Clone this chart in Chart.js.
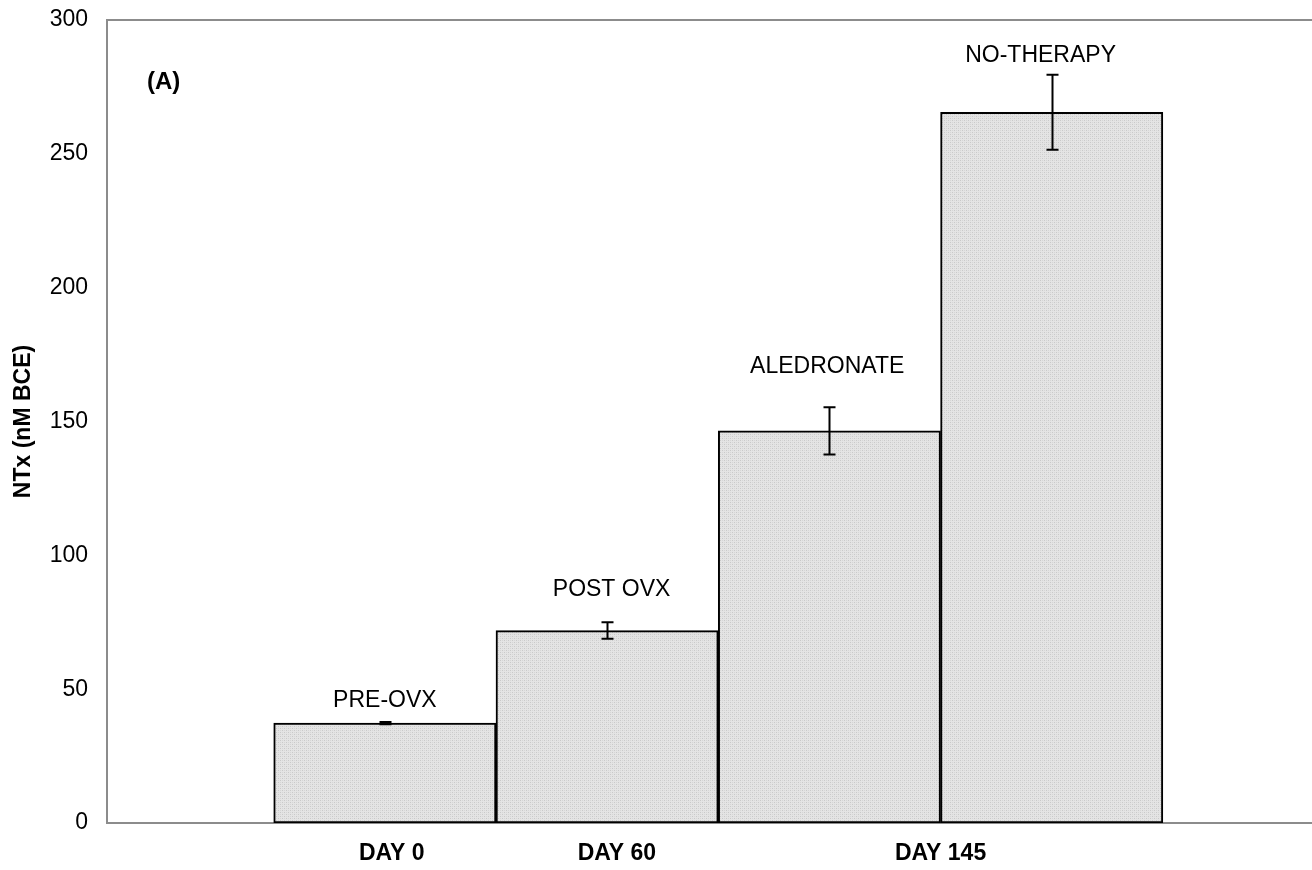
<!DOCTYPE html>
<html>
<head>
<meta charset="utf-8">
<script src="https://cdn.jsdelivr.net/npm/chart.js@4.4.1/dist/chart.umd.min.js"></script>
<style>
  html, body { margin: 0; padding: 0; background: #ffffff; }
  #wrap { width: 1312px; height: 870px; position: relative; }
</style>
</head>
<body>
<div id="wrap"><canvas id="c" width="1312" height="870"></canvas></div>
<script>
// ---- data ----
const groups = ['PRE-OVX', 'POST OVX', 'ALEDRONATE', 'NO-THERAPY'];
const barPositions = [1, 2, 3, 4];
const ntxValues = [37.3, 71.9, 146.5, 265.5];
const ntxErrors = [0.4, 3.1, 8.8, 14.0];
const dayLabels = ['DAY 0', 'DAY 60', 'DAY 145'];
const dayTickPositions = [1.031, 2.044, 3.5];
const yTickValues = [0, 50, 100, 150, 200, 250, 300];
// label anchor heights (in axis units) for the text above each bar
const groupLabelY = [43.4, 84.9, 168.2, 284.4];
const groupLabelX = [1.0, 2.02, 2.99, 3.95];

const FONT = '"Liberation Sans", Arial, sans-serif';

// dotted light-gray fill like the original
function makePattern() {
  const p = document.createElement('canvas');
  p.width = 4; p.height = 4;
  const g = p.getContext('2d');
  g.fillStyle = '#e4e4e4';
  g.fillRect(0, 0, 4, 4);
  g.fillStyle = '#c9c9c9';
  g.fillRect(0, 0, 1, 1);
  g.fillRect(2, 2, 1, 1);
  g.fillStyle = '#d6d6d6';
  g.fillRect(2, 0, 1, 1);
  g.fillRect(0, 2, 1, 1);
  return g.createPattern(p, 'repeat');
}

const errorBars = {
  id: 'errorBars',
  afterDatasetsDraw(chart) {
    const ctx = chart.ctx;
    const meta = chart.getDatasetMeta(0);
    const ys = chart.scales.y;
    ctx.save();
    ctx.strokeStyle = '#000000';
    ctx.lineWidth = 2;
    meta.data.forEach((bar, i) => {
      const hi = ys.getPixelForValue(ntxValues[i] + ntxErrors[i]);
      const lo = ys.getPixelForValue(ntxValues[i] - ntxErrors[i]);
      const x = Math.round(bar.x) + 0.5;
      const cap = 6;
      ctx.beginPath();
      ctx.moveTo(x, hi); ctx.lineTo(x, lo);
      ctx.moveTo(x - cap, hi); ctx.lineTo(x + cap, hi);
      ctx.moveTo(x - cap, lo); ctx.lineTo(x + cap, lo);
      ctx.stroke();
    });
    ctx.restore();
  }
};

const textLabels = {
  id: 'textLabels',
  afterDatasetsDraw(chart) {
    const ctx = chart.ctx;
    const xs = chart.scales.x, ys = chart.scales.y;
    const area = chart.chartArea;
    ctx.save();
    ctx.fillStyle = '#000000';
    ctx.font = '23px ' + FONT;
    ctx.textAlign = 'center';
    ctx.textBaseline = 'alphabetic';
    groups.forEach((g, i) => {
      ctx.fillText(g, xs.getPixelForValue(groupLabelX[i]), ys.getPixelForValue(groupLabelY[i]));
    });
    ctx.font = 'bold 24px ' + FONT;
    ctx.textAlign = 'left';
    ctx.fillText('(A)', 147, 89);
    // top frame line
    ctx.strokeStyle = '#8c8c8c';
    ctx.lineWidth = 2;
    ctx.beginPath();
    ctx.moveTo(area.left - 1, area.top);
    ctx.lineTo(area.right, area.top);
    ctx.stroke();
    ctx.restore();
  }
};

const pattern = makePattern();

new Chart(document.getElementById('c'), {
  type: 'bar',
  data: {
    datasets: [{
      data: barPositions.map((x, i) => ({ x: x, y: ntxValues[i] })),
      backgroundColor: pattern,
      borderColor: '#000000',
      borderWidth: 2,
      borderSkipped: false,
      barPercentage: 1.0,
      categoryPercentage: 1.0
    }]
  },
  options: {
    responsive: false,
    animation: false,
    events: [],
    layout: { padding: { left: 10, top: 20, right: 0, bottom: 0 } },
    plugins: {
      legend: { display: false },
      tooltip: { enabled: false },
      title: { display: false }
    },
    scales: {
      x: {
        type: 'linear',
        min: -0.25,
        max: 5.171,
        offset: false,
        bounds: 'ticks',
        grid: { display: false, drawTicks: false, tickLength: 0, offset: false },
        border: { display: true, color: '#8c8c8c', width: 2 },
        afterBuildTicks(scale) {
          scale.ticks = dayTickPositions.map(v => ({ value: v }));
        },
        afterFit(scale) {
          scale.height = 47;
          scale.paddingLeft = 0; scale.paddingRight = 0;
        },
        ticks: {
          autoSkip: false,
          maxRotation: 0,
          padding: 17,
          color: '#000000',
          font: { family: FONT, size: 23, weight: 'bold' },
          callback: (v, i) => dayLabels[i]
        }
      },
      y: {
        min: 0,
        max: 300,
        grid: { display: false, drawTicks: false, tickLength: 0 },
        border: { display: true, color: '#8c8c8c', width: 2 },
        afterBuildTicks(scale) {
          scale.ticks = yTickValues.map(v => ({ value: v }));
        },
        afterFit(scale) {
          scale.width = 97;
          scale.paddingTop = 0; scale.paddingBottom = 0;
        },
        title: {
          display: true,
          text: 'NTx (nM BCE)',
          color: '#000000',
          font: { family: FONT, size: 23, weight: 'bold' },
          padding: { top: 0, bottom: 0 }
        },
        ticks: {
          padding: 19,
          color: '#000000',
          font: { family: FONT, size: 23 }
        }
      }
    }
  },
  plugins: [errorBars, textLabels]
});
</script>
</body>
</html>
